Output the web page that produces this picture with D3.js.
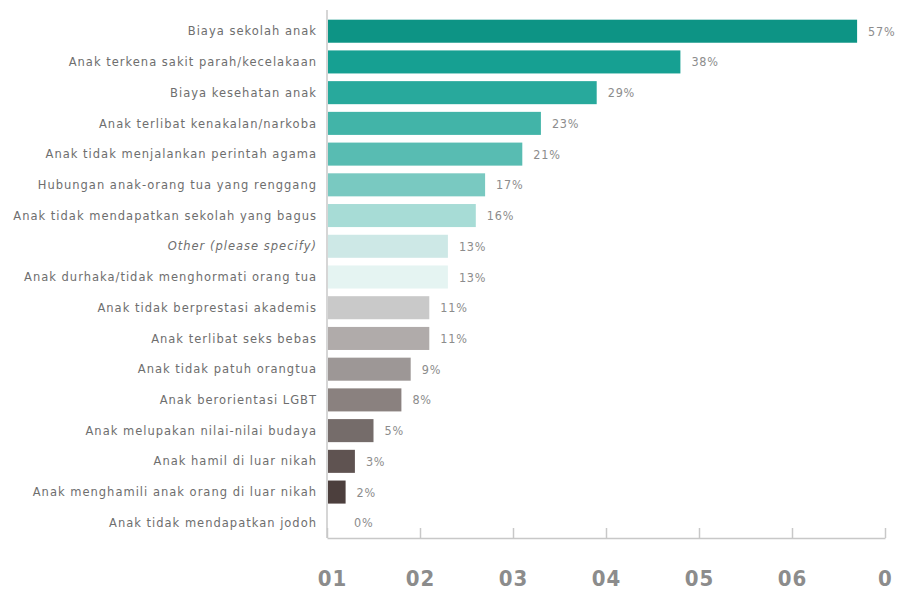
<!DOCTYPE html>
<html>
<head>
<meta charset="utf-8">
<script src="https://cdn.jsdelivr.net/npm/d3@7"></script>
<style>
  html, body { margin: 0; padding: 0; background: #fff; }
  svg { display: block; }
</style>
</head>
<body>
<svg id="chart" width="905" height="598"></svg>
<script>
const categories = [
  "Biaya sekolah anak",
  "Anak terkena sakit parah/kecelakaan",
  "Biaya kesehatan anak",
  "Anak terlibat kenakalan/narkoba",
  "Anak tidak menjalankan perintah agama",
  "Hubungan anak-orang tua yang renggang",
  "Anak tidak mendapatkan sekolah yang bagus",
  "Other (please specify)",
  "Anak durhaka/tidak menghormati orang tua",
  "Anak tidak berprestasi akademis",
  "Anak terlibat seks bebas",
  "Anak tidak patuh orangtua",
  "Anak berorientasi LGBT",
  "Anak melupakan nilai-nilai budaya",
  "Anak hamil di luar nikah",
  "Anak menghamili anak orang di luar nikah",
  "Anak tidak mendapatkan jodoh"
];
const values = [57, 38, 29, 23, 21, 17, 16, 13, 13, 11, 11, 9, 8, 5, 3, 2, 0];
const colors = [
  "#0d9485", "#16a092", "#28a99c", "#42b4a8", "#58bcb2", "#79c9c1",
  "#a7dcd6", "#cde8e6", "#e5f4f2", "#c9c9c9", "#b0abaa", "#9d9796",
  "#8a817f", "#756c6a", "#5f5351", "#4c3f3d", "#ffffff"
];
const tickValues = [0, 10, 20, 30, 40, 50, 60];
const tickLabels = ["01", "02", "03", "04", "05", "06", "0"];

const svg = d3.select("#chart");
const x0 = 327, x1 = 885;
const x = d3.scaleLinear().domain([0, 60]).range([x0, x1]);
const y = d3.scaleBand().domain(categories).range([16, 538]).paddingInner(0.25).paddingOuter(0.12);

const font = "'DejaVu Sans', sans-serif";
const fontC = "'DejaVu Sans Condensed', 'DejaVu Sans', sans-serif";

// bars
svg.append("g").selectAll("rect").data(categories).join("rect")
  .attr("x", x(0) + 1)
  .attr("y", d => y(d))
  .attr("width", (d, i) => Math.max(0, x(values[i]) - x(0) - 1))
  .attr("height", y.bandwidth())
  .attr("fill", (d, i) => colors[i]);

// value labels
svg.append("g").selectAll("text").data(categories).join("text")
  .attr("x", (d, i) => x(values[i]) + (values[i] === 0 ? 27 : 11))
  .attr("y", d => y(d) + y.bandwidth() / 2)
  .attr("dy", "0.36em")
  .attr("font-family", fontC)
  .attr("font-size", 12.5)
  .attr("letter-spacing", 0.8)
  .attr("fill", "#8c8c8c")
  .text((d, i) => values[i] + "%");

// category labels
svg.append("g").selectAll("text").data(categories).join("text")
  .attr("x", 317)
  .attr("y", d => y(d) + y.bandwidth() / 2)
  .attr("dy", "0.36em")
  .attr("text-anchor", "end")
  .attr("font-family", font)
  .attr("font-size", 11.5)
  .attr("letter-spacing", 1.0)
  .attr("font-style", d => d.startsWith("Other") ? "italic" : "normal")
  .attr("fill", "#6e6e6e")
  .text(d => d);

// vertical axis line
svg.append("line")
  .attr("x1", x0).attr("x2", x0)
  .attr("y1", 10).attr("y2", 538)
  .attr("stroke", "#c8c8c8").attr("stroke-width", 1.5);

// bottom axis
const axis = d3.axisBottom(x)
  .tickValues(tickValues)
  .tickSizeInner(-10)
  .tickSizeOuter(0)
  .tickPadding(32)
  .tickFormat((d, i) => tickLabels[i]);

const ga = svg.append("g").attr("transform", "translate(0,538)").call(axis);
ga.select(".domain").attr("stroke", "#c8c8c8").attr("stroke-width", 1.5);
ga.selectAll(".tick line").attr("stroke", "#c8c8c8").attr("stroke-width", 1.5);
ga.selectAll(".tick text")
  .attr("font-family", fontC)
  .attr("font-size", 22)
  .attr("font-weight", "bold")
  .attr("letter-spacing", 1)
  .attr("fill", "#8c8c8c")
  .attr("dx", (d, i) => i === 0 ? 5 : 0);
</script>
</body>
</html>
